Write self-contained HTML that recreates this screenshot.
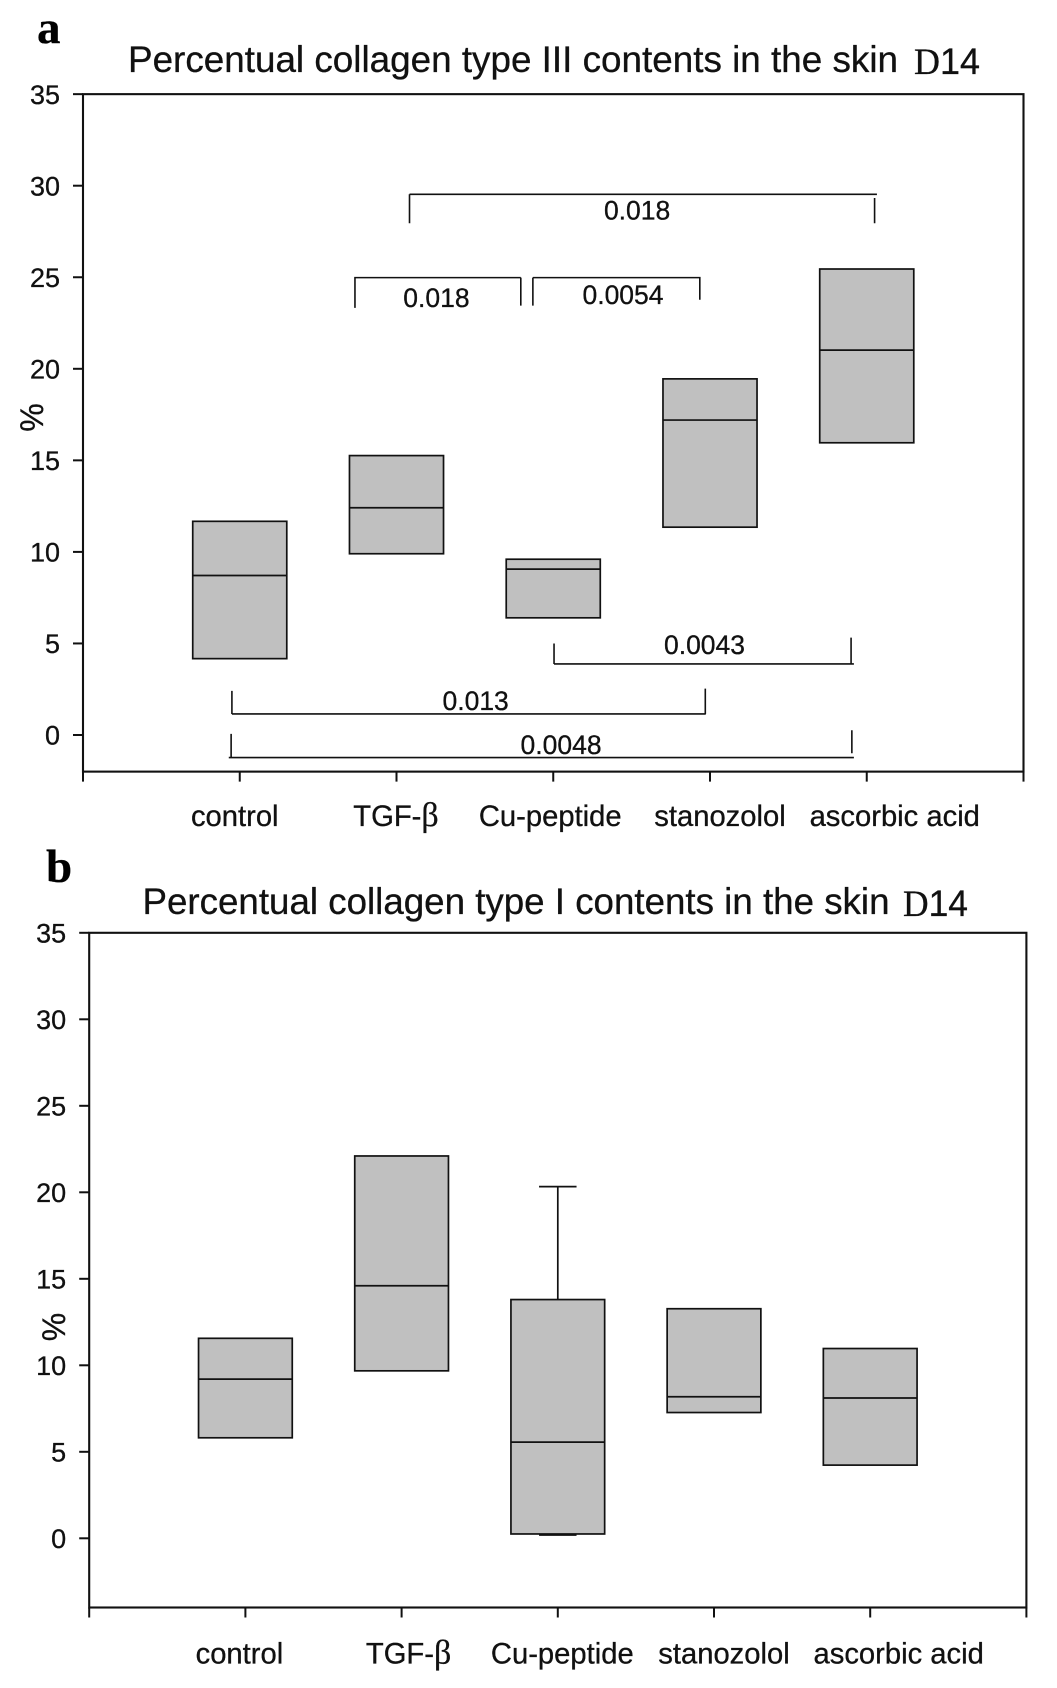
<!DOCTYPE html>
<html lang="en">
<head>
<meta charset="utf-8">
<title>Percentual collagen contents in the skin D14</title>
<style>
html,body{margin:0;padding:0;background:#fff;width:1057px;height:1688px;overflow:hidden}
svg{display:block}
text{font-family:"Liberation Sans",Arial,sans-serif;fill:#111;stroke:#111;stroke-width:.3px}
.serif{font-family:"Liberation Serif","Times New Roman",serif}
.title{font-size:37px}
.letter{font-family:"Liberation Serif","Times New Roman",serif;font-weight:bold;font-size:47px;fill:#000}
</style>
</head>
<body>
<svg id="chart" xmlns="http://www.w3.org/2000/svg" width="1057" height="1688" viewBox="0 0 1057 1688">
  <rect width="1057" height="1688" fill="#fff"/>
  <text class="letter" x="37" y="43">a</text>
  <text class="title" x="128" y="72" textLength="770" lengthAdjust="spacingAndGlyphs">Percentual collagen type III contents in the skin</text>
  <text class="title" x="914" y="74" textLength="66" lengthAdjust="spacingAndGlyphs"><tspan class="serif">D</tspan>14</text>
  <text class="letter" x="46" y="882">b</text>
  <text class="title" x="142.5" y="914" textLength="747" lengthAdjust="spacingAndGlyphs">Percentual collagen type I contents in the skin</text>
  <text class="title" x="903" y="916" textLength="65" lengthAdjust="spacingAndGlyphs"><tspan class="serif">D</tspan>14</text>
</svg>
<script>
// Categories and axis ticks
const categories = ["control", "TGF-", "Cu-peptide", "stanozolol", "ascorbic acid"];
const yTickLabels = [0, 5, 10, 15, 20, 25, 30, 35];

// Panel a: collagen type III
const aBoxTop = [11.67, 15.26, 9.6, 19.45, 25.45];
const aMedian = [8.71, 12.41, 9.06, 17.2, 21.02];
const aBoxBottom = [4.17, 9.9, 6.4, 11.35, 15.96];

// Panel b: collagen type I
const bBoxTop = [11.56, 22.1, 13.8, 13.27, 10.97];
const bMedian = [9.2, 14.6, 5.56, 8.18, 8.11];
const bBoxBottom = [5.81, 9.68, 0.25, 7.27, 4.23];
const bWhiskerHigh = [null, null, 20.33, null, null];
const bWhiskerLow = [null, null, 0.19, null, null];

// Panel a: significance brackets (category units on x, percent on y)
const pValues = ["0.018", "0.018", "0.0054", "0.0043", "0.013", "0.0048"];
const bracketStart = [2.083, 1.73, 2.87, 3.005, 0.95, 0.93];
const bracketEnd = [5.065, 2.793, 3.94, 4.918, 3.973, 4.918];
const bracketLevel = [29.53, 24.98, 24.98, 3.88, 1.15, -1.23];
const bracketStartDrop = [2.083, 1.735, 2.87, 3.005, 0.95, 0.945];
const bracketEndDrop = [5.05, 2.793, 3.935, 4.9, 3.97, 4.905];
const bracketStartTip = [27.95, 23.33, 23.45, 5.0, 2.41, 0.06];
const bracketEndTip = [27.95, 23.45, 23.77, 5.32, 2.53, 0.26];
const bracketEndFoot = [29.33, 24.98, 24.98, 3.88, 1.15, -1.0];
const pLabelX = [3.535, 2.255, 3.445, 3.965, 2.505, 3.05];
const pLabelY = [28.15, 23.37, 23.54, 4.42, 1.37, -1.05];

const svg = document.getElementById('chart');
const NS = 'http://www.w3.org/2000/svg';
const INK = '#111';

function shape(tag, attrs, parent) {
  const el = document.createElementNS(NS, tag);
  for (const k in attrs) el.setAttribute(k, attrs[k]);
  parent.appendChild(el);
  return el;
}

function drawPanel(p) {
  const g = shape('g', {}, svg);
  
  

  const xScale = c => p.left + (p.right - p.left) * c / 6;
  const yScale = v => p.zeroY - v * p.unit;
  p.xScale = xScale;
  p.yScale = yScale;
  const topY = yScale(35);
  const bottomY = yScale(p.yMin);

  const frame = shape('rect', {x: p.left, y: topY, width: p.right - p.left, height: bottomY - topY, fill: 'none', stroke: INK, 'stroke-width': 2.1}, g);
  
  

  yTickLabels.forEach(v => {
    const tick = shape('line', {x1: p.left - 10, x2: p.left, y1: yScale(v), y2: yScale(v), stroke: INK, 'stroke-width': 2}, g);
    
    
    const label = shape('text', {x: p.left + p.yLabelGap, y: yScale(v) + 9.6, 'text-anchor': 'end', 'font-size': 27}, g);
    label.textContent = v;
    
    
  });

  for (let i = 0; i <= 6; i++) {
    const tick = shape('line', {x1: xScale(i), x2: xScale(i), y1: bottomY, y2: bottomY + 10, stroke: INK, 'stroke-width': 2}, g);
    
    
  }

  const yTitle = shape('text', {transform: 'translate(' + p.yTitleX + ' ' + p.yTitleY + ') rotate(-90)', 'text-anchor': 'middle', 'font-size': 32}, g);
  yTitle.textContent = '%';
  
  

  categories.forEach((name, i) => {
    const cx = xScale(i + 1);
    const halfW = (xScale(1) - xScale(0)) * 0.3;

    if (p.whiskerHigh && p.whiskerHigh[i] !== null) {
      const capHalf = (xScale(1) - xScale(0)) * 0.12;
      const stem = shape('line', {x1: cx, x2: cx, y1: yScale(p.whiskerHigh[i]), y2: yScale(p.top[i]), stroke: INK, 'stroke-width': 1.7}, g);
      
      
      const capHigh = shape('line', {x1: cx - capHalf, x2: cx + capHalf, y1: yScale(p.whiskerHigh[i]), y2: yScale(p.whiskerHigh[i]), stroke: INK, 'stroke-width': 1.7}, g);
      
      
      const capLow = shape('line', {x1: cx - capHalf, x2: cx + capHalf, y1: yScale(p.whiskerLow[i]), y2: yScale(p.whiskerLow[i]), stroke: INK, 'stroke-width': 1.7}, g);
      
      
    }

    const box = shape('rect', {x: cx - halfW, y: yScale(p.top[i]), width: halfW * 2, height: yScale(p.bottom[i]) - yScale(p.top[i]), fill: '#c0c0c0', stroke: INK, 'stroke-width': 1.7}, g);
    
    

    const med = shape('line', {x1: cx - halfW, x2: cx + halfW, y1: yScale(p.median[i]), y2: yScale(p.median[i]), stroke: INK, 'stroke-width': 1.7}, g);
    
    

    const label = shape('text', {x: cx + p.labelNudge[i], y: p.labelY, 'text-anchor': 'middle', 'font-size': 29.2}, g);
    label.textContent = name;
    if (name === 'TGF-') {
      const beta = shape('tspan', {'font-family': '"Liberation Serif", serif', 'font-size': 34}, label);
      beta.textContent = 'β';
    }
    
    
  });
}

const panelA = {id: 'panel-a', left: 83, right: 1023.5, zeroY: 735, unit: 18.31, yMin: -2, yLabelGap: -23, labelY: 826, yTitleX: 43, yTitleY: 417.5, labelNudge: [-5, -0.5, -3, 10, 28], top: aBoxTop, median: aMedian, bottom: aBoxBottom};
const panelB = {id: 'panel-b', left: 89.2, right: 1026.4, zeroY: 1538.3, unit: 17.3, yMin: -4, yLabelGap: -23, labelY: 1663.5, yTitleX: 65, yTitleY: 1327, labelNudge: [-6, 7, 4.5, 10, 28.5], top: bBoxTop, median: bMedian, bottom: bBoxBottom, whiskerHigh: bWhiskerHigh, whiskerLow: bWhiskerLow};

drawPanel(panelA);
drawPanel(panelB);

pValues.forEach((pv, i) => {
  const x = panelA.xScale;
  const y = panelA.yScale;
  const lvl = y(bracketLevel[i]);
  const d = 'M' + x(bracketStartDrop[i]) + ' ' + y(bracketStartTip[i]) + 'V' + lvl +
    'M' + x(bracketStart[i]) + ' ' + lvl + 'H' + x(bracketEnd[i]) +
    'M' + x(bracketEndDrop[i]) + ' ' + y(bracketEndFoot[i]) + 'V' + y(bracketEndTip[i]);
  const bracket = shape('path', {d: d, fill: 'none', stroke: INK, 'stroke-width': 1.6}, svg);
  
  
  const label = shape('text', {x: x(pLabelX[i]), y: y(pLabelY[i]), 'text-anchor': 'middle', 'font-size': 26.5}, svg);
  label.textContent = pv;
  
  
});
</script>
</body>
</html>
